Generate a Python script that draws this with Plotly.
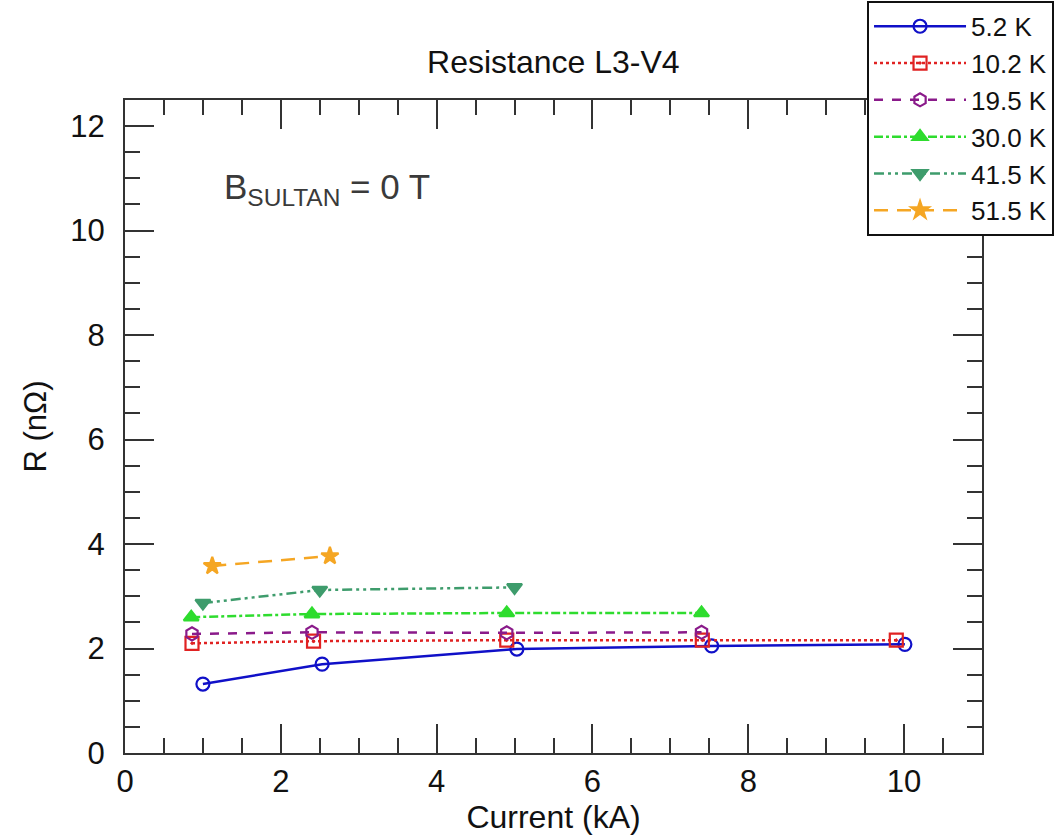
import plotly.graph_objects as go

# Measured resistance R (nOhm) versus transport current (kA) at several temperatures
labels = ["5.2 K", "10.2 K", "19.5 K", "30.0 K", "41.5 K", "51.5 K"]

current_5_2 = [1.0, 2.53, 5.03, 7.53, 10.01]
r_5_2 = [1.32, 1.70, 1.99, 2.05, 2.08]

current_10_2 = [0.86, 2.42, 4.9, 7.41, 9.9]
r_10_2 = [2.10, 2.14, 2.16, 2.16, 2.16]

current_19_5 = [0.86, 2.4, 4.9, 7.4]
r_19_5 = [2.28, 2.31, 2.30, 2.31]

current_30_0 = [0.85, 2.4, 4.9, 7.4]
r_30_0 = [2.60, 2.66, 2.68, 2.68]

current_41_5 = [1.0, 2.5, 5.0]
r_41_5 = [2.87, 3.12, 3.17]

current_51_5 = [1.12, 2.63]
r_51_5 = [3.58, 3.77]

FONT = "Liberation Sans, Arial, Helvetica, sans-serif"

series = [
    (current_5_2, r_5_2, "#1010c8", "solid", "circle-open", 13),
    (current_10_2, r_10_2, "#e02222", "dot", "square-open-dot", 13),
    (current_19_5, r_19_5, "#8a1a8a", "dash", "hexagon-open", 13),
    (current_30_0, r_30_0, "#2edc2e", "dashdot", "triangle-up", 13),
    (current_41_5, r_41_5, "#3e9c6c", "10px,4px,3px,4px,3px,4px", "triangle-down", 13),
    (current_51_5, r_51_5, "#f5a623", "14px,9px", "star", 13),
]

fig = go.Figure()
for (xs, ys, color, dash, symbol, size), name in zip(series, labels):
    fig.add_trace(go.Scatter(
        x=xs, y=ys, name=name, mode="lines+markers",
        line=dict(color=color, width=2.5, dash=dash),
        marker=dict(symbol=symbol, size=size, color=color,
                    line=dict(color=color, width=2.2)),
    ))

axis_common = dict(
    showline=True, linecolor="#333333", linewidth=2, mirror="allticks",
    ticks="inside", ticklen=29, tickwidth=1.5, tickcolor="#333333",
    showgrid=False, zeroline=False,
    tickfont=dict(size=31, color="#111111", family=FONT),
    minor=dict(ticks="inside", ticklen=15, tickwidth=1.5, tickcolor="#333333", dtick=0.5),
)

fig.update_xaxes(range=[0, 11], dtick=2, tick0=0, ticklabelstandoff=0,
                 title=dict(text="Current (kA)", font=dict(size=32, color="#111111", family=FONT), standoff=0),
                 **axis_common)
fig.update_yaxes(range=[0, 12.5], dtick=2, tick0=0, ticklabelstandoff=12,
                 title=dict(text="R (nΩ)", font=dict(size=31, color="#111111", family=FONT), standoff=14),
                 **axis_common)

fig.add_annotation(
    x=0.113, y=0.864, xref="paper", yref="paper", xanchor="left", yanchor="middle",
    text="B<sub>SULTAN</sub> = 0 T", showarrow=False,
    font=dict(size=35, color="#3a3a3a", family=FONT),
)

fig.update_layout(
    width=1058, height=835,
    margin=dict(l=125, r=76, t=100, b=82, autoexpand=False),
    paper_bgcolor="white", plot_bgcolor="white",
    font=dict(family=FONT, color="#111111"),
    title=dict(text="Resistance L3-V4", x=0.523, xanchor="center",
               y=0.926, yanchor="middle", yref="container",
               font=dict(size=32, color="#111111", family=FONT)),
    legend=dict(
        x=0.8195, y=0.999, xref="container", yref="container",
        xanchor="left", yanchor="top",
        bgcolor="white", bordercolor="#111111", borderwidth=2,
        font=dict(size=26, color="#111111", family=FONT),
        itemwidth=92, tracegroupgap=0,
    ),
    showlegend=True,
)

fig.write_html("out.html")
